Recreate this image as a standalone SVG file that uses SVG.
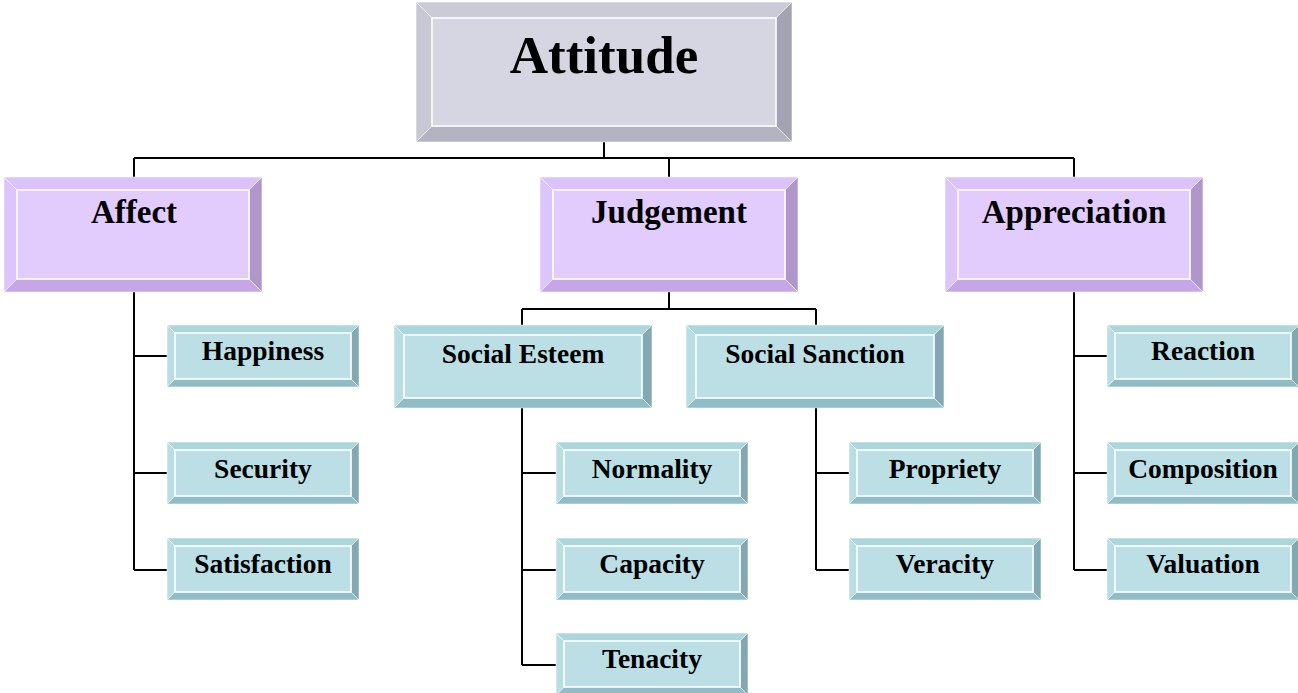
<svg xmlns="http://www.w3.org/2000/svg" xmlns:xlink="http://www.w3.org/1999/xlink" width="1298" height="693" viewBox="0 0 1298 693">
<style>
text{font-family:"Liberation Serif","Times New Roman",serif;font-weight:bold;fill:#000;text-anchor:middle}
.t0{font-size:53px}.t1{font-size:33px}.t2{font-size:27.5px}
.bv polygon{stroke:#ffffff;stroke-opacity:.55;stroke-width:1}
.face{stroke:#ffffff;stroke-width:1.5}
.g .tp{fill:#cbcbd8}.g .lf{fill:#c8c8d5}.g .rt{fill:#a3a3b1}.g .bt{fill:#b3b3c1}.g .face{fill:#d6d6e2}
.p .tp{fill:#dcc2fa}.p .lf{fill:#dcc5fb}.p .rt{fill:#af97cc}.p .bt{fill:#c6a6e6}.p .face{fill:#e2cbfd}
.c .tp{fill:#acd6dd}.c .lf{fill:#b8dde3}.c .rt{fill:#82a9b1}.c .bt{fill:#90bcc5}.c .face{fill:#bcdfe5}
.conn{fill:none;stroke:#000;stroke-width:2}
</style>
<defs>
<g id="bGray" class="bv g">
<polygon class="tp" points="0,0 376,0 360,16 16,16"/>
<polygon class="lf" points="0,0 16,16 16,124 0,140"/>
<polygon class="rt" points="376,0 376,140 360,124 360,16"/>
<polygon class="bt" points="0,140 376,140 360,124 16,124"/>
<rect class="face" x="16" y="16" width="344" height="108"/>
</g>
<g id="bPurple" class="bv p">
<polygon class="tp" points="0,0 258,0 245,13 13,13"/>
<polygon class="lf" points="0,0 13,13 13,102 0,115"/>
<polygon class="rt" points="258,0 258,115 245,102 245,13"/>
<polygon class="bt" points="0,115 258,115 245,102 13,102"/>
<rect class="face" x="13" y="13" width="232" height="89"/>
</g>
<g id="bTealM" class="bv c">
<polygon class="tp" points="0,0 258,0 248,10 10,10"/>
<polygon class="lf" points="0,0 10,10 10,73 0,83"/>
<polygon class="rt" points="258,0 258,83 248,73 248,10"/>
<polygon class="bt" points="0,83 258,83 248,73 10,73"/>
<rect class="face" x="10" y="10" width="238" height="63"/>
</g>
<g id="bTealS" class="bv c">
<polygon class="tp" points="0,0 192,0 184,8 8,8"/>
<polygon class="lf" points="0,0 8,8 8,54 0,62"/>
<polygon class="rt" points="192,0 192,62 184,54 184,8"/>
<polygon class="bt" points="0,62 192,62 184,54 8,54"/>
<rect class="face" x="8" y="8" width="176" height="46"/>
</g>
</defs>
<g id="connectors">
<path class="conn" d="M604,142 V158 M134,158 H1074 M134,158 V177 M669,158 V177 M1074,158 V177"/>
<path class="conn" d="M134,292 V570 M134,356 H167 M134,473 H167 M134,570 H167"/>
<path class="conn" d="M669,292 V309 M522,309 H816 M522,309 V325 M816,309 V325"/>
<path class="conn" d="M522,408 V665 M522,473 H556 M522,570 H556 M522,665 H556"/>
<path class="conn" d="M816,408 V570 M816,473 H849 M816,570 H849"/>
<path class="conn" d="M1074,292 V570 M1074,356 H1107 M1074,473 H1107 M1074,570 H1107"/>
</g>
<g id="node-attitude"><use xlink:href="#bGray" x="416" y="2"/><text class="t0" x="604" y="73">Attitude</text></g>
<g id="node-affect"><use xlink:href="#bPurple" x="4" y="177"/><text class="t1" x="134" y="223">Affect</text></g>
<g id="node-judgement"><use xlink:href="#bPurple" x="540" y="177"/><text class="t1" x="669" y="223">Judgement</text></g>
<g id="node-appreciation"><use xlink:href="#bPurple" x="945" y="177"/><text class="t1" x="1074" y="223">Appreciation</text></g>
<g id="node-social-esteem"><use xlink:href="#bTealM" x="394" y="325"/><text class="t2" x="523" y="363">Social Esteem</text></g>
<g id="node-social-sanction"><use xlink:href="#bTealM" x="686" y="325"/><text class="t2" x="815" y="363">Social Sanction</text></g>
<g id="node-happiness"><use xlink:href="#bTealS" x="167" y="325"/><text class="t2" x="263" y="360">Happiness</text></g>
<g id="node-security"><use xlink:href="#bTealS" x="167" y="442"/><text class="t2" x="263" y="478">Security</text></g>
<g id="node-satisfaction"><use xlink:href="#bTealS" x="167" y="538"/><text class="t2" x="263" y="573">Satisfaction</text></g>
<g id="node-normality"><use xlink:href="#bTealS" x="556" y="442"/><text class="t2" x="652" y="478">Normality</text></g>
<g id="node-capacity"><use xlink:href="#bTealS" x="556" y="538"/><text class="t2" x="652" y="573">Capacity</text></g>
<g id="node-tenacity"><use xlink:href="#bTealS" x="556" y="633"/><text class="t2" x="652" y="668">Tenacity</text></g>
<g id="node-propriety"><use xlink:href="#bTealS" x="849" y="442"/><text class="t2" x="945" y="478">Propriety</text></g>
<g id="node-veracity"><use xlink:href="#bTealS" x="849" y="538"/><text class="t2" x="945" y="573">Veracity</text></g>
<g id="node-reaction"><use xlink:href="#bTealS" x="1107" y="325"/><text class="t2" x="1203" y="360">Reaction</text></g>
<g id="node-composition"><use xlink:href="#bTealS" x="1107" y="442"/><text class="t2" x="1203" y="478">Composition</text></g>
<g id="node-valuation"><use xlink:href="#bTealS" x="1107" y="538"/><text class="t2" x="1203" y="573">Valuation</text></g>
</svg>
